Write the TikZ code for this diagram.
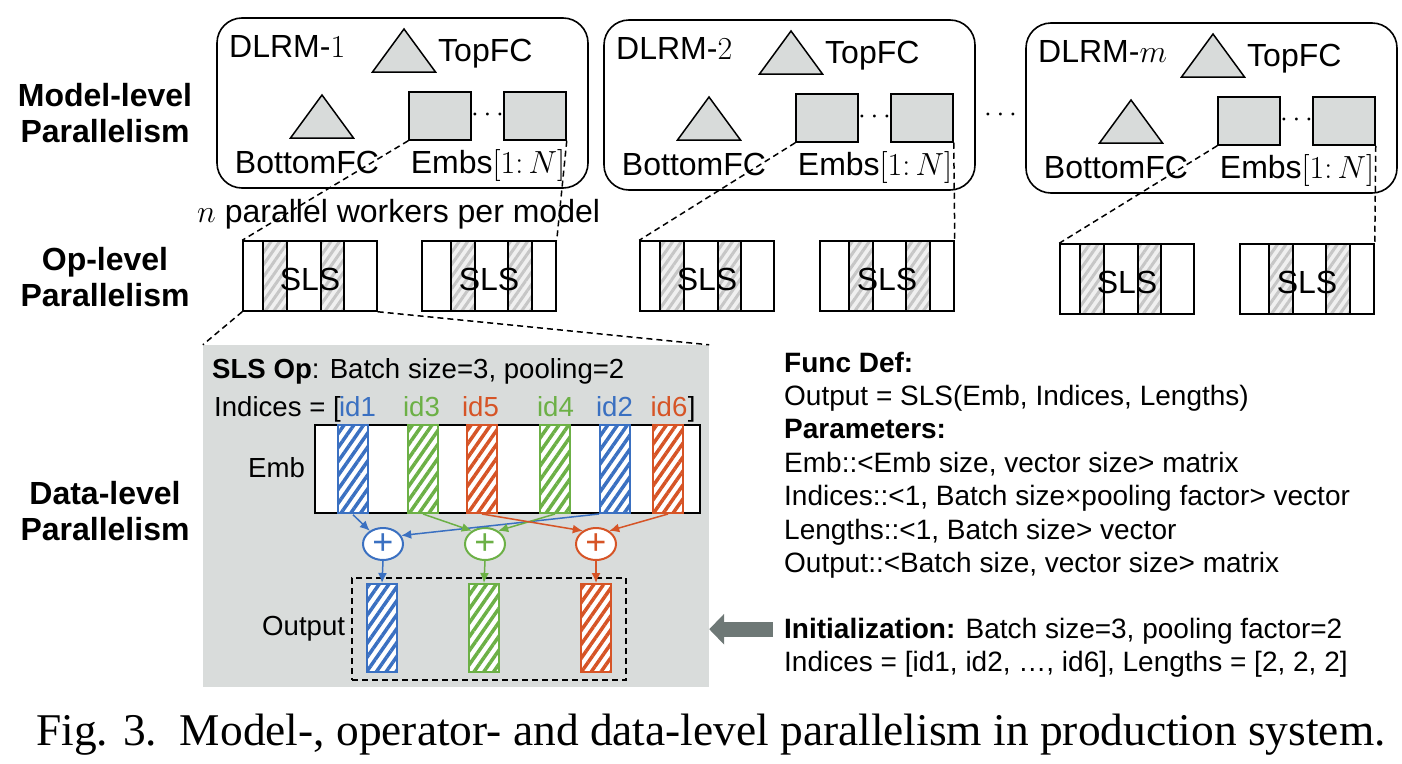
\RequirePackage{fix-cm}
\documentclass[tikz,border=0pt]{standalone}
\usepackage{fontspec}
\setmainfont{Liberation Sans}
\newfontfamily\capfont{Liberation Serif}
\usepackage{tikz}
\usepackage{xcolor}
\usetikzlibrary{shapes.geometric}
\usetikzlibrary{arrows.meta}
\usetikzlibrary{patterns.meta}

\definecolor{boxgray}{RGB}{216,219,218}
\definecolor{panelgray}{RGB}{217,220,219}
\definecolor{arrowgray}{RGB}{110,120,118}
\definecolor{slsblue}{RGB}{58,112,193}
\definecolor{slsgreen}{RGB}{108,176,70}
\definecolor{slsred}{RGB}{214,84,38}

\begin{document}
\begin{tikzpicture}[x=1pt,y=-1pt,
  lbl/.style={font=\fontsize{32}{36}\selectfont, inner sep=0pt},
  level/.style={font=\bfseries\fontsize{32}{36}\selectfont, align=center, inner sep=0pt},
  ptext/.style={font=\fontsize{27.6}{33.4}\selectfont, inner sep=0pt},
  rtext/.style={font=\fontsize{28}{33.4}\selectfont, inner sep=0pt, align=left},
  model/.style={draw, rounded corners=25pt, line width=1.6pt,
    minimum width=371pt, minimum height=170pt, inner sep=0pt},
  tri/.style={draw, fill=boxgray, line width=1.5pt, line join=miter},
  embsq/.style={draw, fill=boxgray, line width=1.5pt,
    minimum width=62pt, minimum height=48pt, inner sep=0pt},
  dots/.style={font=\fontsize{28}{30}\selectfont, inner sep=0pt},
  slsbox/.style={draw, line width=1.5pt, minimum width=134pt, minimum height=70pt,
    inner sep=0pt, font=\fontsize{32}{36}\selectfont},
  graycell/.style={preaction={fill=gray!12}, pattern={Lines[angle=55,distance=7pt,line width=3pt]},
    pattern color=gray!45},
  cell/.style={line width=1.5pt},
  link/.style={line width=1.5pt, dash pattern=on 6pt off 4pt},
  panel/.style={fill=panelgray, minimum width=506pt, minimum height=342pt, inner sep=0pt},
  stripe/.style={draw=#1, line width=2pt, minimum width=30pt, minimum height=88pt, inner sep=0pt,
    preaction={fill=white}, pattern={Lines[angle=55,distance=8pt,line width=3.5pt]}, pattern color=#1},
  plusnode/.style={ellipse, draw=#1, fill=white, line width=2pt, minimum width=40pt,
    minimum height=32pt, inner sep=0pt, text=#1, font=\fontsize{36}{36}\selectfont},
  flow/.style={draw=#1, line width=1.5pt, -{Latex[length=10pt,width=9pt]}},
  bigarrow/.style={draw=arrowgray, line width=15pt, -{Triangle[length=15pt,width=30pt]}}]

\useasboundingbox (0,0) rectangle (1402,763);

% level names
\node[level] (modellevel) at (105,113.4) {Model-level\\Parallelism};
\node[level] (oplevel) at (105,277.4) {Op-level\\Parallelism};
\node[level] (datalevel) at (105,511.4) {Data-level\\Parallelism};

% model 1
\begin{scope}[shift={(217,18)}]
\node[model] (dlrm1) at (185.5,85) {};
\node[lbl, anchor=base west] (name1) at (12,39) {DLRM-$1$};
\filldraw[tri] (187,11) -- (218.5,54) -- (155.5,54) -- cycle;
\node[lbl, anchor=base west] (top1) at (221,43) {TopFC};
\filldraw[tri] (105,77) -- (136.5,120) -- (73.5,120) -- cycle;
\node[lbl, anchor=base] (bot1) at (90,155) {BottomFC};
\node[embsq] (emb11) at (223,98) {};
\node[embsq] (emb1n) at (318,98) {};
\node[dots] (edots1) at (270.5,97) {$\cdots$};
\node[lbl, anchor=base] (embs1) at (271,155) {Embs$[1\colon N]$};
\end{scope}

% model 2
\begin{scope}[shift={(604,20)}]
\node[model] (dlrm2) at (185.5,85) {};
\node[lbl, anchor=base west] (name2) at (12,39) {DLRM-$2$};
\filldraw[tri] (187,11) -- (218.5,54) -- (155.5,54) -- cycle;
\node[lbl, anchor=base west] (top2) at (221,43) {TopFC};
\filldraw[tri] (105,77) -- (136.5,120) -- (73.5,120) -- cycle;
\node[lbl, anchor=base] (bot2) at (90,155) {BottomFC};
\node[embsq] (emb21) at (223,98) {};
\node[embsq] (emb2n) at (318,98) {};
\node[dots] (edots2) at (270.5,97) {$\cdots$};
\node[lbl, anchor=base] (embs2) at (271,155) {Embs$[1\colon N]$};
\end{scope}

\node[dots] (mdots) at (1000.5,115) {$\cdots$};

% model m
\begin{scope}[shift={(1026,23)}]
\node[model] (dlrm3) at (185.5,85) {};
\node[lbl, anchor=base west] (name3) at (12,39) {DLRM-$m$};
\filldraw[tri] (187,11) -- (218.5,54) -- (155.5,54) -- cycle;
\node[lbl, anchor=base west] (top3) at (221,43) {TopFC};
\filldraw[tri] (105,77) -- (136.5,120) -- (73.5,120) -- cycle;
\node[lbl, anchor=base] (bot3) at (90,155) {BottomFC};
\node[embsq] (emb31) at (223,98) {};
\node[embsq] (emb3n) at (318,98) {};
\node[dots] (edots3) at (270.5,97) {$\cdots$};
\node[lbl, anchor=base] (embs3) at (271,155) {Embs$[1\colon N]$};
\end{scope}

\node[lbl, anchor=base west] (workers) at (197,222) {$n$ parallel workers per model};

% SLS workers
\begin{scope}[shift={(243,241)}]
\path[graycell] (20,0) rectangle (44,70);
\path[graycell] (78,0) rectangle (101,70);
\node[slsbox] (sls1) at (67,35) {};
\node[lbl] (slstext1) at (67,38) {SLS};
\draw[cell] (20,0) -- (20,70) (44,0) -- (44,70) (78,0) -- (78,70) (101,0) -- (101,70);
\end{scope}
\begin{scope}[shift={(422,241)}]
\path[graycell] (29,0) rectangle (53,70);
\path[graycell] (86,0) rectangle (110,70);
\node[slsbox] (sls2) at (67,35) {};
\node[lbl] (slstext2) at (67,38) {SLS};
\draw[cell] (29,0) -- (29,70) (53,0) -- (53,70) (86,0) -- (86,70) (110,0) -- (110,70);
\end{scope}
\begin{scope}[shift={(640,241)}]
\path[graycell] (20,0) rectangle (44,70);
\path[graycell] (78,0) rectangle (101,70);
\node[slsbox] (sls3) at (67,35) {};
\node[lbl] (slstext3) at (67,38) {SLS};
\draw[cell] (20,0) -- (20,70) (44,0) -- (44,70) (78,0) -- (78,70) (101,0) -- (101,70);
\end{scope}
\begin{scope}[shift={(820,241)}]
\path[graycell] (29,0) rectangle (53,70);
\path[graycell] (86,0) rectangle (110,70);
\node[slsbox] (sls4) at (67,35) {};
\node[lbl] (slstext4) at (67,38) {SLS};
\draw[cell] (29,0) -- (29,70) (53,0) -- (53,70) (86,0) -- (86,70) (110,0) -- (110,70);
\end{scope}
\begin{scope}[shift={(1060,244)}]
\path[graycell] (20,0) rectangle (44,70);
\path[graycell] (78,0) rectangle (101,70);
\node[slsbox] (sls5) at (67,35) {};
\node[lbl] (slstext5) at (67,38) {SLS};
\draw[cell] (20,0) -- (20,70) (44,0) -- (44,70) (78,0) -- (78,70) (101,0) -- (101,70);
\end{scope}
\begin{scope}[shift={(1240,244)}]
\path[graycell] (29,0) rectangle (53,70);
\path[graycell] (86,0) rectangle (110,70);
\node[slsbox] (sls6) at (67,35) {};
\node[lbl] (slstext6) at (67,38) {SLS};
\draw[cell] (29,0) -- (29,70) (53,0) -- (53,70) (86,0) -- (86,70) (110,0) -- (110,70);
\end{scope}

% SLS op panel
\node[panel] (slsop) at (456,516) {};
\node[ptext, anchor=base west] (optitle) at (212,378) {\textbf{SLS Op}: Batch size=3, pooling=2};
\node[ptext, anchor=base west] (indices) at (214,416) {Indices = [};
\node[ptext, anchor=base, text=slsblue] (lid1) at (357.5,416) {id1};
\node[ptext, anchor=base, text=slsgreen] (lid3) at (421.5,416) {id3};
\node[ptext, anchor=base, text=slsred] (lid5) at (480.5,416) {id5};
\node[ptext, anchor=base, text=slsgreen] (lid4) at (555.5,416) {id4};
\node[ptext, anchor=base, text=slsblue] (lid2) at (614.5,416) {id2};
\node[ptext, anchor=base, text=slsred] (lid6) at (669,416) {id6};
\node[ptext, anchor=base west] (rbrack) at (lid6.base east) {]};

\node[draw, fill=white, line width=2pt, minimum width=385pt, minimum height=88pt, inner sep=0pt]
  (emb) at (507.5,469) {};
\node[ptext, anchor=base west] (emblbl) at (248,477) {Emb};
\node[stripe=slsblue] (s1) at (353,469) {};
\node[stripe=slsgreen] (s3) at (423,469) {};
\node[stripe=slsred] (s5) at (482,469) {};
\node[stripe=slsgreen] (s4) at (555,469) {};
\node[stripe=slsblue] (s2) at (615,469) {};
\node[stripe=slsred] (s6) at (668,469) {};

\node[plusnode=slsblue] (pb) at (383,544) {+};
\node[plusnode=slsgreen] (pg) at (485,544) {+};
\node[plusnode=slsred] (pr) at (596,544) {+};

\node[draw, line width=1.5pt, dash pattern=on 6pt off 4pt, minimum width=274pt, minimum height=102pt,
  inner sep=0pt] (outframe) at (489,629) {};
\node[ptext, anchor=base west] (outlbl) at (262,635) {Output};
\node[stripe=slsblue] (ob) at (382,628) {};
\node[stripe=slsgreen] (og) at (484,628) {};
\node[stripe=slsred] (or) at (596,628) {};

% sums
\draw[flow=slsblue] (s1.south) -- (pb.135);
\draw[flow=slsblue] (s2.south west) -- (pb.25);
\draw[flow=slsgreen] (s3.south) -- (pg.135);
\draw[flow=slsgreen] (s4.south) -- (pg.45);
\draw[flow=slsred] (s5.south) -- (pr.135);
\draw[flow=slsred] (s6.south) -- (pr.45);
\draw[flow=slsblue] (pb.south) -- (ob.north);
\draw[flow=slsgreen] (pg.south) -- (og.north);
\draw[flow=slsred] (pr.south) -- (or.north);

% zoom lines
\draw[link] (emb11.south west) -- (sls1.north west);
\draw[link] (emb1n.south east) -- (sls2.north east);
\draw[link] (emb21.south west) -- (sls3.north west);
\draw[link] (emb2n.south east) -- (sls4.north east);
\draw[link] (emb31.south west) -- (sls5.north west);
\draw[link] (emb3n.south east) -- (sls6.north east);
\draw[link] (sls1.south west) -- (slsop.north west);
\draw[link] (sls1.south east) -- (slsop.north east);

% definition text
\node[rtext, anchor=north west] (funcdef) at (784,351.6) {\textbf{Func Def:}\\
Output = SLS(Emb, Indices, Lengths)\\
\textbf{Parameters:}\\
Emb::<Emb size, vector size> matrix\\
Indices::<1, Batch size×pooling factor> vector\\
Lengths::<1, Batch size> vector\\
Output::<Batch size, vector size> matrix};
\node[rtext, anchor=north west] (init) at (784,617.6) {\textbf{Initialization:} Batch size=3, pooling factor=2\\
Indices = [id1, id2, …, id6], Lengths = [2, 2, 2]};
\coordinate (arrtail) at ([xshift=-11pt,yshift=-11.6pt]init.north west);
\draw[bigarrow] (arrtail) -- (arrtail -| slsop.east);

\node[anchor=base west, inner sep=0pt, font=\capfont\fontsize{45.4}{50}\selectfont] (caption) at (36,745)
  {Fig. 3.\ \ Model-, operator- and data-level parallelism in production system.};
\end{tikzpicture}
\end{document}
